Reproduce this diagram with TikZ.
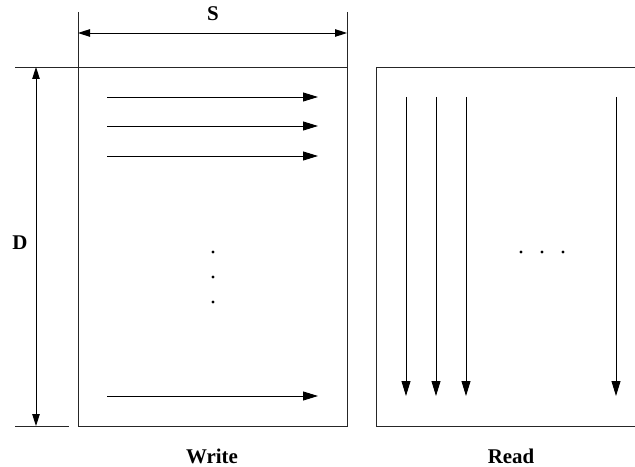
\documentclass[tikz,border=0pt]{standalone}
\usepackage{fontspec}
\setmainfont{Liberation Serif}
\usetikzlibrary{arrows.meta}
\begin{document}
\begin{tikzpicture}[x=1bp,y=-1bp,
  ln/.style={line width=0.9bp,black!85},
  flow/.style={line width=0.9bp,-{Triangle[length=15bp,width=9bp]}},
  dim/.style={line width=0.9bp,{Triangle[length=12bp,width=7.5bp]}-{Triangle[length=12bp,width=7.5bp]}},
  lbl/.style={font=\fontsize{21}{24}\selectfont\bfseries,inner sep=0pt},
  dotn/.style={circle,fill=black,inner sep=0pt,minimum size=3.2bp}]
\useasboundingbox (0,0) rectangle (635,467);
% write box
\draw[ln] (78,67) rectangle (347,426);
% read box (right side cut at image edge)
\draw[ln] (635,67) -- (376,67) -- (376,426) -- (635,426);
% extension lines
\draw[ln] (15,67) -- (78,67);
\draw[ln] (15,426) -- (69,426);
\draw[ln] (78,12) -- (78,67);
\draw[ln] (347,12) -- (347,67);
% dimension arrows
\coordinate (sL) at (78,33); \coordinate (sR) at (347,33);
\coordinate (dT) at (36,67); \coordinate (dB) at (36,426);
\draw[dim] (sL) -- (sR);
\draw[dim] (dT) -- (dB);
\node[lbl] (S) at (213,14) {S};
\node[lbl] (D) at (20,243) {D};
% write arrows
\foreach \y/\n in {97/a,126/b,156/c,396/d}{
  \coordinate (w\n s) at (107,\y); \coordinate (w\n e) at (318,\y);
  \draw[flow] (w\n s) -- (w\n e);
}
% read arrows
\foreach \x/\n in {406/a,436/b,466/c,616/d}{
  \coordinate (r\n s) at (\x,97); \coordinate (r\n e) at (\x,396);
  \draw[flow] (r\n s) -- (r\n e);
}
% dots
\node[dotn] (wd1) at (213,252) {};
\node[dotn] (wd2) at (213,277) {};
\node[dotn] (wd3) at (213,302) {};
\node[dotn] (rd1) at (521,252) {};
\node[dotn] (rd2) at (542,252) {};
\node[dotn] (rd3) at (563,252) {};
% captions
\node[lbl] (W) at (212,456) {Write};
\node[lbl] (R) at (511,456) {Read};
\end{tikzpicture}
\end{document}
